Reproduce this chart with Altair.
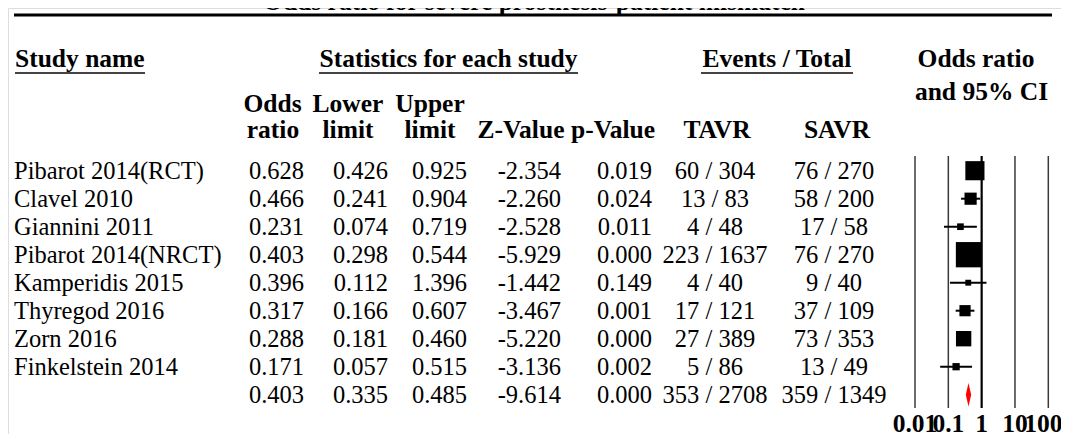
import altair as alt
import pandas as pd

# ---------------- data ----------------
title_text = "Odds ratio for severe prosthesis-patient mismatch"
studies = ["Pibarot 2014(RCT)", "Clavel 2010", "Giannini 2011", "Pibarot 2014(NRCT)",
           "Kamperidis 2015", "Thyregod 2016", "Zorn 2016", "Finkelstein 2014"]
odds_ratio = [0.628, 0.466, 0.231, 0.403, 0.396, 0.317, 0.288, 0.171]
lower_limit = [0.426, 0.241, 0.074, 0.298, 0.112, 0.166, 0.181, 0.057]
upper_limit = [0.925, 0.904, 0.719, 0.544, 1.396, 0.607, 0.460, 0.515]
z_value = [-2.354, -2.260, -2.528, -5.929, -1.442, -3.467, -5.220, -3.136]
p_value = [0.019, 0.024, 0.011, 0.000, 0.149, 0.001, 0.000, 0.002]
tavr_events = [60, 13, 4, 223, 4, 17, 27, 5]
tavr_total = [304, 83, 48, 1637, 40, 121, 389, 86]
savr_events = [76, 58, 17, 76, 9, 37, 73, 13]
savr_total = [270, 200, 58, 270, 40, 109, 353, 49]
rel_weight = [22.2, 9.0, 2.7, 38.8, 2.1, 7.6, 14.3, 3.2]   # relative weight (%), from square sizes

summary_or = 0.403
summary_lower = 0.335
summary_upper = 0.485
summary_z = -9.614
summary_p = 0.000
summary_tavr = (353, 2708)
summary_savr = (359, 1349)

axis_ticks = [0.01, 0.1, 1, 10, 100]
axis_labels = ["0.01", "0.1", "1", "10", "100"]

# ---------------- tables built from the arrays ----------------
n = len(studies)
table = pd.DataFrame({
    "row": list(range(n + 1)),
    "name": studies + [""],
    "or_s": [f"{v:.3f}" for v in odds_ratio + [summary_or]],
    "lo_s": [f"{v:.3f}" for v in lower_limit + [summary_lower]],
    "up_s": [f"{v:.3f}" for v in upper_limit + [summary_upper]],
    "z_s": [f"{v:.3f}" for v in z_value + [summary_z]],
    "p_s": [f"{v:.3f}" for v in p_value + [summary_p]],
    "tavr_s": [f"{e} / {t}" for e, t in zip(tavr_events + [summary_tavr[0]], tavr_total + [summary_tavr[1]])],
    "savr_s": [f"{e} / {t}" for e, t in zip(savr_events + [summary_savr[0]], savr_total + [summary_savr[1]])],
})

forest = pd.DataFrame({
    "row": list(range(n)),
    "or": odds_ratio,
    "lo": lower_limit,
    "up": upper_limit,
    "w": rel_weight,
})

DH = 0.42  # half height of the summary diamond, in rows
diamond = pd.DataFrame({
    "x": [summary_lower, summary_or, summary_upper],
    "ytop": [n, n - DH, n],
    "ybot": [n, n + DH, n],
})

ticks = pd.DataFrame({"tick": axis_ticks, "label": axis_labels})

# ---------------- styling ----------------
FONT = "Liberation Serif"
FS = 24.5      # body text
FSB = 25.5     # bold headers
DY = 8.3

xscale = alt.Scale(type="log", domain=[0.01, 100], range=[907, 1040.3], nice=False)
yscale = alt.Scale(domain=[0, 8], range=[162.7, 386.7], nice=False, zero=False)
Y = alt.Y("row:Q", scale=yscale, axis=None)

one = pd.DataFrame({"k": [0]})


def label(text, x, y, align="center", bold=True):
    return alt.Chart(one).mark_text(
        text=text, align=align, baseline="alphabetic", font=FONT,
        fontSize=FSB if bold else FS,
        fontWeight="bold" if bold else "normal", color="black"
    ).encode(x=alt.value(x), y=alt.value(y))


def hline(x1, x2, y, width, color):
    return alt.Chart(one).mark_rule(strokeWidth=width, color=color).encode(
        x=alt.value(x1), x2=alt.value(x2), y=alt.value(y))


def column(field, x, align):
    return alt.Chart(table).mark_text(
        align=align, baseline="alphabetic", dy=DY, font=FONT, fontSize=FS, color="black"
    ).encode(x=alt.value(x), y=Y, text=f"{field}:N")


layers = [
    label(title_text, 526, 2),
    hline(6, 1044, 7, 3, "black"),
    # top headers
    label("Study name", 7, 59, align="left"),
    hline(7, 137, 65, 2, "#444444"),
    label("Statistics for each study", 440.5, 59),
    hline(311, 570, 65, 2, "#444444"),
    label("Events / Total", 769, 59),
    hline(693, 845, 65, 2, "#444444"),
    label("Odds ratio", 968, 59),
    label("and 95% CI", 973.5, 92),
    # sub headers
    label("Odds", 264.5, 104),
    label("ratio", 265, 130),
    label("Lower", 340, 104),
    label("limit", 340, 130),
    label("Upper", 422, 104),
    label("limit", 422, 130),
    label("Z-Value", 513, 130),
    label("p-Value", 605, 130),
    label("TAVR", 709, 130),
    label("SAVR", 829, 130),
    # table columns
    column("name", 6, "left"),
    column("or_s", 296, "right"),
    column("lo_s", 380, "right"),
    column("up_s", 459, "right"),
    column("z_s", 553, "right"),
    column("p_s", 644, "right"),
    column("tavr_s", 707, "center"),
    column("savr_s", 826, "center"),
]

grid_other = alt.Chart(ticks).transform_filter("datum.tick != 1").mark_rule(
    color="#3a3a3a", strokeWidth=1.5
).encode(x=alt.X("tick:Q", scale=xscale, axis=None), y=alt.value(148), y2=alt.value(400))

grid_one = alt.Chart(ticks).transform_filter("datum.tick == 1").mark_rule(
    color="black", strokeWidth=2.2
).encode(x=alt.X("tick:Q", scale=xscale, axis=None), y=alt.value(148), y2=alt.value(400))

tick_labels = alt.Chart(ticks).transform_filter("datum.tick < 100").mark_text(
    baseline="alphabetic", font=FONT, fontSize=FSB, fontWeight="bold", color="black"
).encode(x=alt.X("tick:Q", scale=xscale, axis=None), y=alt.value(424), text="label:N")

# last label kept inside the page's right edge
tick_label_last = alt.Chart(ticks).transform_filter("datum.tick >= 100").mark_text(
    baseline="alphabetic", font=FONT, fontSize=FSB, fontWeight="bold", color="black", dx=-5
).encode(x=alt.X("tick:Q", scale=xscale, axis=None), y=alt.value(424), text="label:N")

ci = alt.Chart(forest).mark_rule(color="black", strokeWidth=2).encode(
    x=alt.X("lo:Q", scale=xscale, axis=None), x2="up:Q", y=Y)

squares = alt.Chart(forest).mark_square(color="black", opacity=1, strokeWidth=0).encode(
    x=alt.X("or:Q", scale=xscale, axis=None), y=Y,
    size=alt.Size("w:Q", scale=alt.Scale(domain=[0, max(rel_weight)], range=[0, 640], zero=True), legend=None))

diam = alt.Chart(diamond).mark_area(color="#ff0000", orient="vertical", opacity=1).encode(
    x=alt.X("x:Q", scale=xscale, axis=None),
    y=alt.Y("ytop:Q", scale=yscale, axis=None),
    y2="ybot:Q")

chart = alt.layer(*layers, grid_other, grid_one, tick_labels, tick_label_last, ci, squares, diam).properties(
    width=1053, height=428, padding=0,
    autosize=alt.AutoSizeParams(type="none"),
).configure_view(stroke=None).configure(background="white")

chart.save("out.html", embed_options={"renderer": "svg", "actions": False})
